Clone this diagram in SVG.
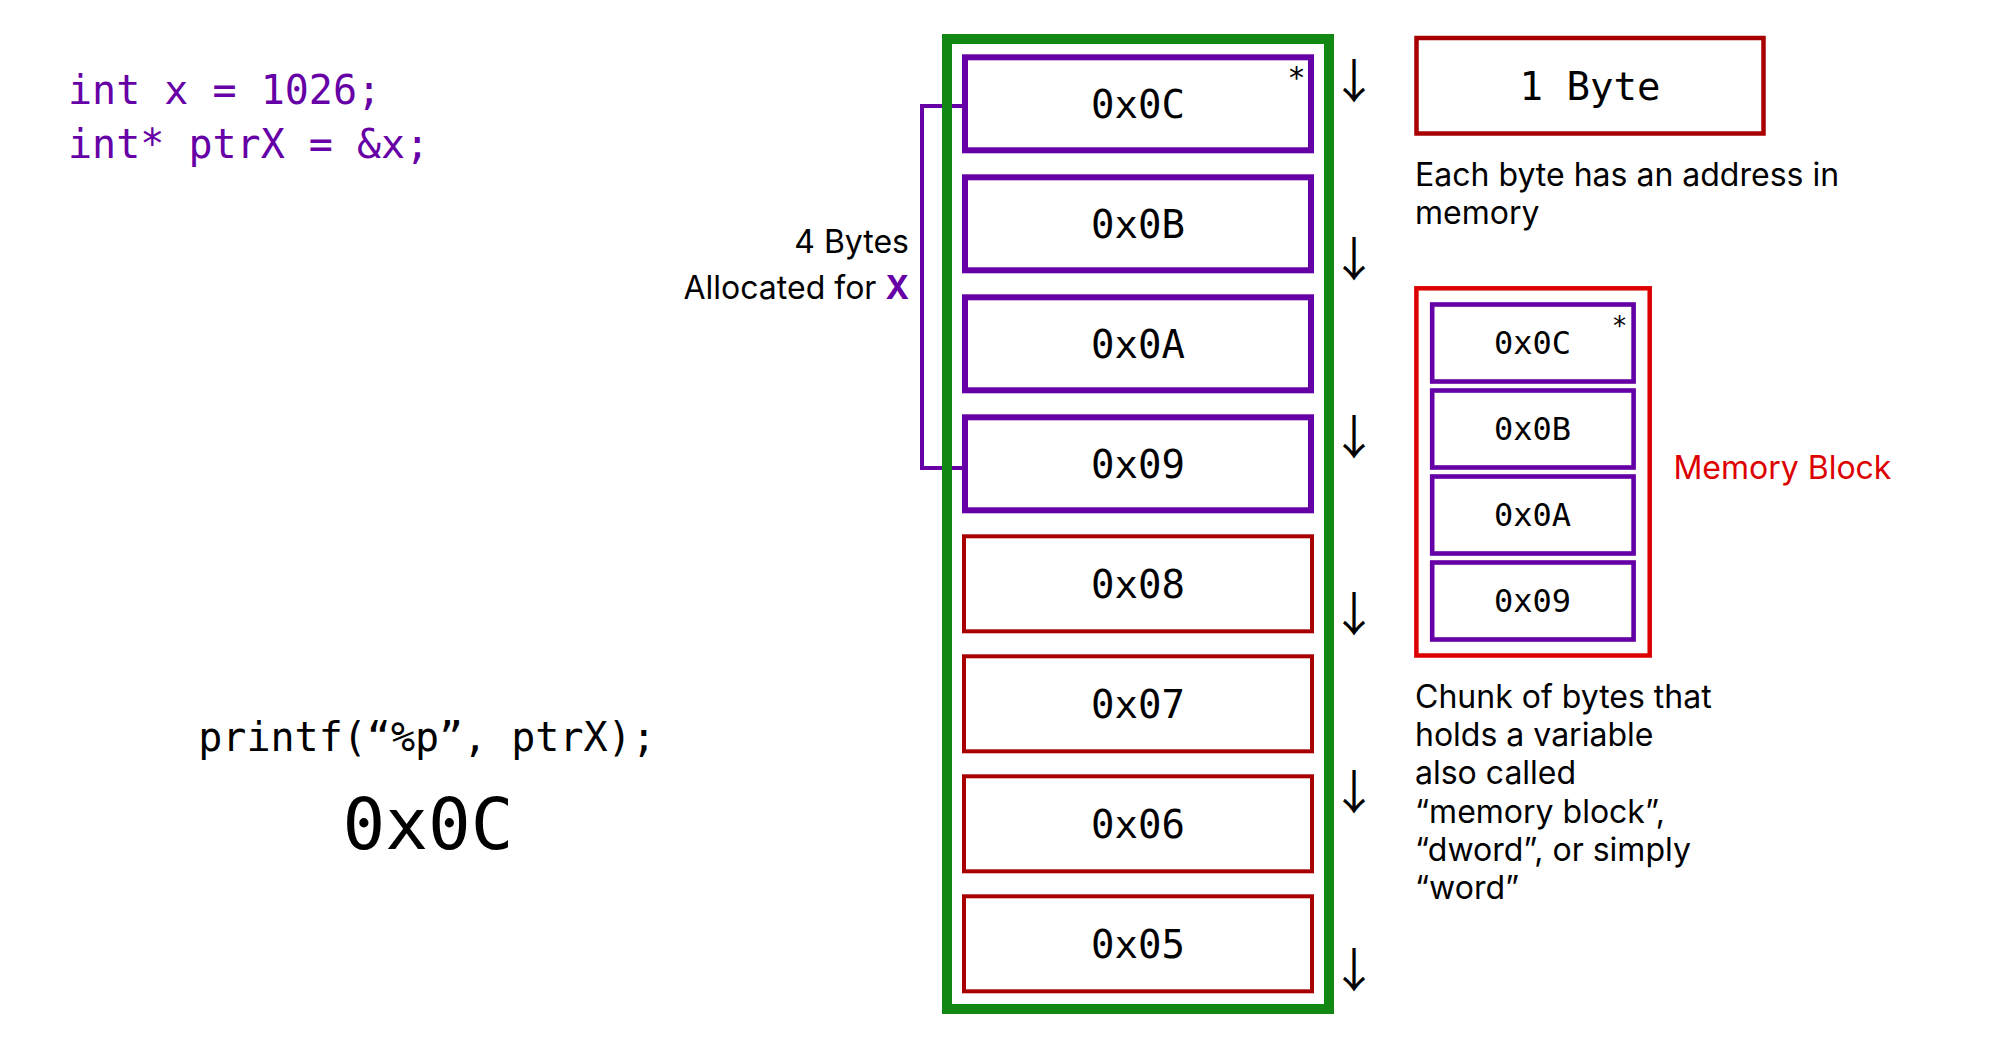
<svg xmlns="http://www.w3.org/2000/svg" width="2000" height="1050" viewBox="0 0 2000 1050">
<style>
.mono{font-family:"DejaVu Sans Mono","Liberation Mono",monospace;}
.sans{font-family:Inter,"Noto Sans","Liberation Sans",sans-serif;}
.code{font-size:40px;fill:#6600a6;}
.box-p{fill:#ffffff;stroke:#6600a6;stroke-width:6;}
.box-r{fill:#ffffff;stroke:#a80000;stroke-width:4;}
.lbl{font-size:39px;fill:#000;text-anchor:middle;}
.slbl{font-size:32px;fill:#000;text-anchor:middle;}
.box-ps{fill:#ffffff;stroke:#6600a6;stroke-width:4.6;}
.desc{font-size:32px;fill:#000;}
.arrow{font-family:"Noto Sans CJK SC",sans-serif;font-size:47px;fill:#000;text-anchor:middle;}
</style>
<rect width="2000" height="1050" fill="#ffffff"/>

<g id="code">
<text class="mono code" x="68" y="104">int x = 1026;</text>
<text class="mono code" x="68" y="158">int* ptrX = &amp;x;</text>
</g>

<g id="printf">
<text class="mono" x="427" y="751" font-size="40" text-anchor="middle" fill="#000">printf(“%p”, ptrX);</text>
<text class="mono" x="428" y="849" font-size="71" text-anchor="middle" fill="#000">0x0C</text>
</g>

<g id="connectors">
<path d="M962 106 H922 V468 H962" fill="none" stroke="#6600a6" stroke-width="4"/>
</g>

<g id="alloc-label">
<text class="sans" x="909" y="253" font-size="32" text-anchor="end" fill="#000">4 Bytes</text>
<text class="sans" x="909" y="299" font-size="32" text-anchor="end" fill="#000">Allocated for <tspan fill="#6600a6" font-weight="bold">X</tspan></text>
</g>

<g id="memory">
<rect x="947" y="39" width="382" height="970" fill="none" stroke="#128812" stroke-width="10"/>
<g id="b0C"><rect class="box-p" x="965" y="57.3" width="346" height="93"/><text class="mono lbl" x="1138" y="118">0x0C</text><text class="mono" x="1296.5" y="88" font-size="30" text-anchor="middle">*</text></g>
<g id="b0B"><rect class="box-p" x="965" y="177.3" width="346" height="93"/><text class="mono lbl" x="1138" y="238">0x0B</text></g>
<g id="b0A"><rect class="box-p" x="965" y="297.3" width="346" height="93"/><text class="mono lbl" x="1138" y="358">0x0A</text></g>
<g id="b09"><rect class="box-p" x="965" y="417.3" width="346" height="93"/><text class="mono lbl" x="1138" y="478">0x09</text></g>
<g id="b08"><rect class="box-r" x="964" y="536.3" width="348" height="95"/><text class="mono lbl" x="1138" y="598">0x08</text></g>
<g id="b07"><rect class="box-r" x="964" y="656.3" width="348" height="95"/><text class="mono lbl" x="1138" y="718">0x07</text></g>
<g id="b06"><rect class="box-r" x="964" y="776.3" width="348" height="95"/><text class="mono lbl" x="1138" y="838">0x06</text></g>
<g id="b05"><rect class="box-r" x="964" y="896.3" width="348" height="95"/><text class="mono lbl" x="1138" y="958">0x05</text></g>
</g>

<g id="arrows">
<text class="arrow" x="1354" y="98">↓</text>
<text class="arrow" x="1354" y="275.8">↓</text>
<text class="arrow" x="1354" y="453.6">↓</text>
<text class="arrow" x="1354" y="631.4">↓</text>
<text class="arrow" x="1354" y="809.2">↓</text>
<text class="arrow" x="1354" y="987">↓</text>
</g>

<g id="byte-legend">
<rect x="1416.5" y="38" width="347" height="95.5" fill="#fff" stroke="#a80000" stroke-width="4.5"/>
<text class="mono lbl" x="1590" y="100">1 Byte</text>
</g>
<g id="byte-desc">
<text class="sans desc" x="1415" y="186">Each byte has an address in</text>
<text class="sans desc" x="1415" y="223.5">memory</text>
</g>

<g id="block-legend">
<rect x="1416.4" y="288.3" width="233.3" height="367.2" fill="#fff" stroke="#dd0000" stroke-width="4.5"/>
<g id="s0C"><rect class="box-ps" x="1432.2" y="304.5" width="201.4" height="77"/><text class="mono slbl" x="1532.5" y="353.5">0x0C</text><text class="mono" x="1619.6" y="335" font-size="26" text-anchor="middle">*</text></g>
<g id="s0B"><rect class="box-ps" x="1432.2" y="390.5" width="201.4" height="77"/><text class="mono slbl" x="1532.5" y="439.5">0x0B</text></g>
<g id="s0A"><rect class="box-ps" x="1432.2" y="476.5" width="201.4" height="77"/><text class="mono slbl" x="1532.5" y="525.5">0x0A</text></g>
<g id="s09"><rect class="box-ps" x="1432.2" y="562.5" width="201.4" height="77"/><text class="mono slbl" x="1532.5" y="611.5">0x09</text></g>
</g>
<g id="block-label">
<text class="sans" x="1673.4" y="479.3" font-size="32" fill="#dd0000">Memory Block</text>
</g>
<g id="block-desc">
<text class="sans desc" x="1415" y="707.7">Chunk of bytes that</text>
<text class="sans desc" x="1415" y="746">holds a variable</text>
<text class="sans desc" x="1415" y="784.3">also called</text>
<text class="sans desc" x="1415" y="822.6">“memory block”,</text>
<text class="sans desc" x="1415" y="860.9">“dword”, or simply</text>
<text class="sans desc" x="1415" y="899.2">“word”</text>
</g>
</svg>
